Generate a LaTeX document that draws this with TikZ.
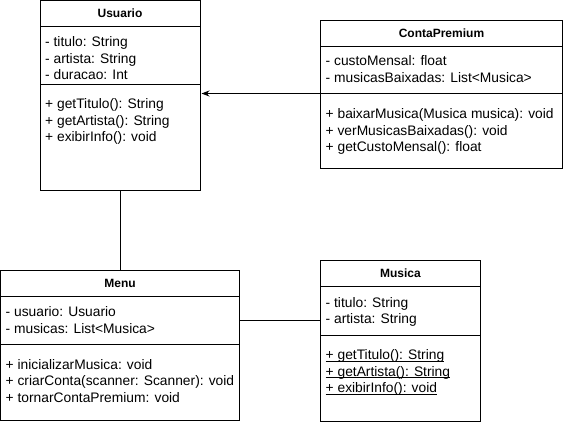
\documentclass[tikz,border=0pt]{standalone}
\usepackage{fontspec}
\setmainfont{Liberation Sans}
\usetikzlibrary{positioning,arrows.meta}
\newcommand\staticmember[1]{\setbox0\hbox{#1}\rlap{\rule[-2pt]{\wd0}{0.7pt}}\box0}

\begin{document}
\begin{tikzpicture}[
  x=1pt,
  y=-1pt,
  font=\fontsize{13.8}{16}\selectfont,
  compartment/.style={
    draw=black,
    line width=1pt,
    inner sep=0pt,
    outer sep=0pt,
    anchor=north,
  },
  class name/.style={
    compartment,
    font=\fontsize{12}{14}\selectfont\bfseries,
    minimum height=26pt,
  },
  member/.style={
    anchor=base west,
    inner sep=0pt,
  },
  association/.style={
    draw=black,
    line width=1pt,
  },
  navigation/.style={
    association,
    -{Stealth[length=8pt,width=6pt]},
    shorten >=1.5pt,
  },
]
\useasboundingbox (0,0) rectangle (563,424);
% Usuario
\node[class name,minimum width=160pt] (usuario) at (120,0.5) {Usuario};
\node[compartment,minimum width=160pt,minimum height=58pt,below=0pt of usuario] (usuario attrs) {};
\node[compartment,minimum width=160pt,minimum height=106pt,below=0pt of usuario attrs] (usuario ops) {};
\foreach \txt [count=\i] in {{- titulo: String},{- artista: String},{- duracao: Int}}
  \node[member] (usuario attr \i) at ([shift={(5,3.5+16.5*\i)}]usuario attrs.north west) {\txt};
\foreach \txt [count=\i] in {{+ getTitulo(): String},{+ getArtista(): String},{+ exibirInfo(): void}}
  \node[member] (usuario op \i) at ([shift={(5,7.5+16.5*\i)}]usuario ops.north west) {\txt};
% ContaPremium
\node[class name,minimum width=242pt] (conta) at (441.5,20.5) {ContaPremium};
\node[compartment,minimum width=242pt,minimum height=47pt,below=0pt of conta] (conta attrs) {};
\node[compartment,minimum width=242pt,minimum height=75pt,below=0pt of conta attrs] (conta ops) {};
\foreach \txt [count=\i] in {{- custoMensal: float},{- musicasBaixadas: List<Musica>}}
  \node[member] (conta attr \i) at ([shift={(5,2.5+16.5*\i)}]conta attrs.north west) {\txt};
\foreach \txt [count=\i] in {{+ baixarMusica(Musica musica): void},{+ verMusicasBaixadas(): void},{+ getCustoMensal(): float}}
  \node[member] (conta op \i) at ([shift={(5,8.5+16.5*\i)}]conta ops.north west) {\txt};
% Menu
\node[class name,minimum width=239pt] (menu) at (120,270.5) {Menu};
\node[compartment,minimum width=239pt,minimum height=48pt,below=0pt of menu] (menu attrs) {};
\node[compartment,minimum width=239pt,minimum height=76pt,below=0pt of menu attrs] (menu ops) {};
\foreach \txt [count=\i] in {{- usuario: Usuario},{- musicas: List<Musica>}}
  \node[member] (menu attr \i) at ([shift={(5,3.5+16.5*\i)}]menu attrs.north west) {\txt};
\foreach \txt [count=\i] in {{+ inicializarMusica: void},{+ criarConta(scanner: Scanner): void},{+ tornarContaPremium: void}}
  \node[member] (menu op \i) at ([shift={(5,8+16.5*\i)}]menu ops.north west) {\txt};
% Musica
\node[class name,minimum width=160pt] (musica) at (400.5,260.5) {Musica};
\node[compartment,minimum width=160pt,minimum height=48.5pt,below=0pt of musica] (musica attrs) {};
\node[compartment,minimum width=160pt,minimum height=86pt,below=0pt of musica attrs] (musica ops) {};
\foreach \txt [count=\i] in {{- titulo: String},{- artista: String}}
  \node[member] (musica attr \i) at ([shift={(5,4+16.5*\i)}]musica attrs.north west) {\txt};
\foreach \txt [count=\i] in {{\staticmember{+ getTitulo(): String}},{\staticmember{+ getArtista(): String}},{\staticmember{+ exibirInfo(): void}}}
  \node[member] (musica op \i) at ([shift={(5,8+16.5*\i)}]musica ops.north west) {\txt};
% relations
\draw[navigation] (conta ops.north west) -- (conta ops.north west -| usuario ops.east);
\draw[association] (usuario ops.south) -- (menu.north);
\draw[association] (menu attrs.east) -- (menu attrs.east -| musica attrs.west);
\end{tikzpicture}
\end{document}
